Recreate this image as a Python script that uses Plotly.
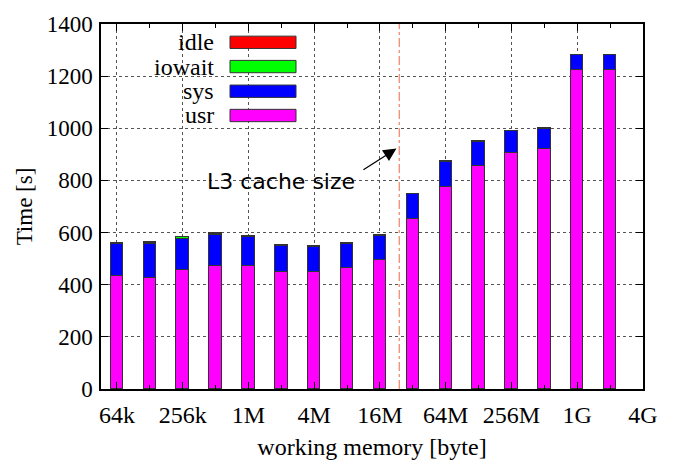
import plotly.graph_objects as go

# data
categories = ["64k", "128k", "256k", "512k", "1M", "2M", "4M", "8M", "16M",
              "32M", "64M", "128M", "256M", "512M", "1G", "2G"]
log2_size = [16, 17, 18, 19, 20, 21, 22, 23, 24, 25, 26, 27, 28, 29, 30, 31]
usr = [432, 427, 455, 470, 473, 450, 447, 463, 493, 653, 776, 854, 906, 920, 1223, 1223]
sys_ = [123, 130, 122, 120, 110, 100, 99, 94, 94, 94, 96, 93, 83, 79, 58, 57]
iowait = [4, 4, 5, 4, 2, 2, 1, 2, 2, 2, 2, 2, 1, 1, 1, 1]
idle = [1, 1, 1, 3, 1, 0.5, 0.5, 0.5, 0.5, 0.5, 0.5, 0.5, 0.5, 0.5, 0.5, 0.5]
tick_pos = [16, 18, 20, 22, 24, 26, 28, 30, 32]
tick_text = ["64k", "256k", "1M", "4M", "16M", "64M", "256M", "1G", "4G"]
l3_log2 = 24.585  # 24 MiB
series = [("usr", usr, "#ff00ff"), ("sys", sys_, "#0000ff"),
          ("iowait", iowait, "#00ff00"), ("idle", idle, "#ff0000")]

SERIF = "Liberation Serif"
W, H = 675, 468
L, R, T, B = 101, 32, 16, 79

fig = go.Figure()
for name, vals, col in series:
    fig.add_trace(go.Bar(x=log2_size, y=vals, name=name, width=0.38,
                         marker=dict(color=col, line=dict(color="#333333", width=1)),
                         customdata=categories, showlegend=False))

axis_common = dict(showline=True, linecolor="black", linewidth=1.5, mirror="allticks",
                   ticks="inside", ticklen=7, tickcolor="black",
                   showgrid=True, gridcolor="#555555", griddash="dot", gridwidth=1,
                   zeroline=False)

fig.update_layout(
    width=W, height=H, barmode="stack", plot_bgcolor="white", paper_bgcolor="white",
    margin=dict(l=L, r=R, t=T, b=B),
    xaxis=dict(range=[15.514, 32], tickvals=tick_pos, ticktext=tick_text,
               minor=dict(dtick=1, tick0=16, ticks="inside", ticklen=4, tickcolor="black", showgrid=False),
               ticklabelstandoff=3, tickfont=dict(family=SERIF, size=24, color="black"),
               title=dict(text="working memory [byte]", font=dict(family=SERIF, size=24, color="black"),
                          standoff=12),
               **axis_common),
    yaxis=dict(range=[0, 1400], dtick=200, ticklabelstandoff=2,
               tickfont=dict(family=SERIF, size=23, color="black"),
               title=dict(text="Time [s]", font=dict(family=SERIF, size=23, color="black"), standoff=8),
               **axis_common),
    bargap=0,
)

# L3 cache marker
fig.add_shape(type="line", xref="x", yref="y", x0=l3_log2, x1=l3_log2, y0=0, y1=1400,
              line=dict(color="#ee6a45", width=1, dash="dashdot"))
fig.add_annotation(x=24.5, y=922, ax=23.45, ay=837, xref="x", yref="y", axref="x", ayref="y",
                   text="", showarrow=True, arrowhead=2, arrowsize=2, arrowwidth=1.3, arrowcolor="black")
fig.add_annotation(x=18.67, y=795, xref="x", yref="y", text="L3 cache size", showarrow=False,
                   xanchor="left", font=dict(family="DejaVu Sans", size=22, color="black"))

# custom key (text left of swatch)
pw, ph = W - L - R, H - T - B
def px(xp): return (xp - L) / pw
def py(yp): return (H - B - yp) / ph
key = [("idle", "#ff0000", 34.7), ("iowait", "#00ff00", 59.5), ("sys", "#0000ff", 84.7), ("usr", "#ff00ff", 109.5)]
for name, col, yc in key:
    fig.add_annotation(x=px(216), y=py(yc), xref="paper", yref="paper", text=name, showarrow=False,
                       xanchor="right", yanchor="middle", font=dict(family=SERIF, size=24, color="black"))
    fig.add_shape(type="rect", xref="paper", yref="paper", x0=px(230), x1=px(296),
                  y0=py(yc + 6.3), y1=py(yc - 6.3), fillcolor=col, line=dict(color="#333333", width=1))

fig.write_html("out.html")
